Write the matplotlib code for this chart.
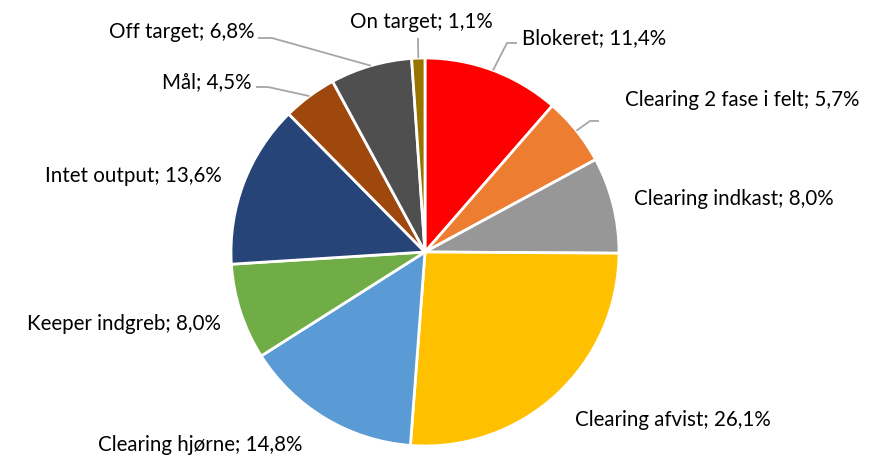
import numpy as np
import matplotlib
matplotlib.use('Agg')
import matplotlib.pyplot as plt

# DATA
labels = ['Blokeret', 'Clearing 2 fase i felt', 'Clearing indkast', 'Clearing afvist',
          'Clearing hjørne', 'Keeper indgreb', 'Intet output', 'Mål', 'Off target', 'On target']
values = [11.4, 5.7, 8.0, 26.1, 14.8, 8.0, 13.6, 4.5, 6.8, 1.1]
colors = ['#FF0000', '#ED7D31', '#979797', '#FFC000', '#5B9BD5',
          '#70AD47', '#264478', '#9E480E', '#4F4F4F', '#997300']

# LAYOUT (pixel anchor of labels: x, center y, horizontal alignment)
W, H = 877, 457
CX, CY, R = 425, 252, 194
label_px = [(522, 38, 'left'), (625, 100, 'left'), (634, 199, 'left'), (575, 420, 'left'),
            (200, 445, 'center'), (221, 324, 'right'), (222, 176, 'right'),
            (251, 82, 'right'), (254, 32, 'right'), (421, 22, 'center')]
# elbow points of leader lines (None = no leader)
elbow_px = [[(507, 43), (517, 43)], [(590, 121), (599, 121)], None, None, None,
            None, None, [(268, 87), (256, 87)], [(272, 38), (258, 38)], [(418, 38)]]

plt.rcParams['font.family'] = ['Lato', 'DejaVu Sans']

fig = plt.figure(figsize=(W / 100, H / 100), dpi=100)
ax = fig.add_axes([0, 0, 1, 1])

wedges, _ = ax.pie(values, colors=colors, startangle=90, counterclock=False,
                   radius=1.0, center=(0, 0), frame=True,
                   wedgeprops=dict(edgecolor='white', linewidth=2.0))
ax.set_xlim(-CX / R, (W - CX) / R)
ax.set_ylim(-(H - CY) / R, CY / R)
ax.set_aspect('auto')
ax.axis('off')


def px2d(x, y):
    return (x - CX) / R, (CY - y) / R


total = sum(values)
cum = 0.0
for i, (lab, v) in enumerate(zip(labels, values)):
    mid = 90 - (cum + v / 2) / total * 360
    cum += v
    px, py, ha = label_px[i]
    tx, ty = px2d(px, py)
    txt = f"{lab}; {v:.1f}%".replace('.', ',')
    ax.text(tx, ty, txt, ha=ha, va='center', fontsize=14.8, color='#000000')
    if elbow_px[i] is not None:
        sx, sy = np.cos(np.radians(mid)), np.sin(np.radians(mid))
        pts = [(sx, sy)] + [px2d(*p) for p in elbow_px[i]]
        xs, ys = zip(*pts)
        ax.plot(xs, ys, color='#A6A6A6', lw=1.3, solid_capstyle='butt')

fig.savefig('out.png', dpi=100)
